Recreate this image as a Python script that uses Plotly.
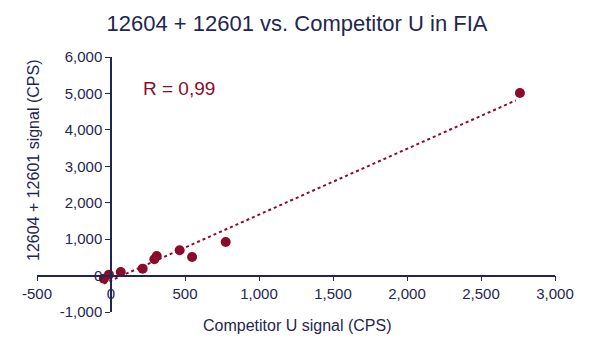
import numpy as np
import plotly.graph_objects as go

competitor_u = [-48, -14, 66, 214, 293, 309, 464, 548, 775, 2763]
signal_12604_12601 = [-85, 25, 99, 190, 447, 538, 695, 511, 922, 5012]
x_ticks = [-500, 0, 500, 1000, 1500, 2000, 2500, 3000]
x_tick_text = ["-500", "0", "500", "1,000", "1,500", "2,000", "2,500", "3,000"]
y_ticks = [-1000, 0, 1000, 2000, 3000, 4000, 5000, 6000]
y_tick_text = ["-1,000", "0", "1,000", "2,000", "3,000", "4,000", "5,000", "6,000"]

RED = "#8C0B2B"
NAVY = "#1F2650"
FONT = "Liberation Sans, Arial, sans-serif"

slope, intercept = np.polyfit(competitor_u, signal_12604_12601, 1)
x_fit = np.array([min(competitor_u), 2735])
y_fit = slope * x_fit + intercept

L, R, T, B = 37, 555, 57, 312
W, H = 594, 353

fig = go.Figure()
fig.add_trace(go.Scatter(x=x_fit, y=y_fit, mode="lines",
                         line=dict(color=RED, width=2, dash="dot"),
                         hoverinfo="skip", showlegend=False))
fig.add_trace(go.Scatter(x=competitor_u, y=signal_12604_12601, mode="markers",
                         marker=dict(color=RED, size=10), showlegend=False))

def px(x):
    return (x - L) / (R - L)

def py(y):
    return (B - y) / (B - T)

fig.update_layout(
    width=W, height=H,
    margin=dict(l=L, r=W - R, t=T, b=H - B),
    paper_bgcolor="white", plot_bgcolor="white",
    font=dict(family=FONT, color=NAVY, size=15),
    title=dict(text="12604 + 12601 vs. Competitor U in FIA", x=0.5, xanchor="center",
               y=1 - 23 / H, yanchor="middle", font=dict(size=22, color=NAVY)),
    xaxis=dict(range=[-500, 3000], tickvals=x_ticks, ticktext=x_tick_text, showgrid=False,
               zeroline=False, showline=True, linecolor=NAVY, linewidth=1.5,
               ticks="outside", ticklen=5, tickcolor=NAVY, anchor="free",
               position=1/7, tickfont=dict(size=15, color=NAVY)),
    yaxis=dict(range=[-1000, 6000], tickvals=y_ticks, ticktext=y_tick_text, showgrid=False,
               zeroline=False, showline=True, linecolor=NAVY, linewidth=1.5,
               ticks="outside", ticklen=5, tickcolor=NAVY, anchor="free",
               position=1/7, tickfont=dict(size=15, color=NAVY)),
    annotations=[
        dict(text="Competitor U signal (CPS)", xref="paper", yref="paper",
             x=px(297), y=py(325), showarrow=False,
             xanchor="center", yanchor="middle", font=dict(size=16, color=NAVY)),
        dict(text="12604 + 12601 signal (CPS)", xref="paper", yref="paper",
             x=px(33), y=py(161), showarrow=False, textangle=-90,
             xanchor="center", yanchor="middle", font=dict(size=16, color=NAVY)),
        dict(text="R = 0,99", xref="paper", yref="paper",
             x=px(179), y=py(88), showarrow=False,
             xanchor="center", yanchor="middle", font=dict(size=19, color=RED)),
    ],
)

fig.write_html("out.html")
